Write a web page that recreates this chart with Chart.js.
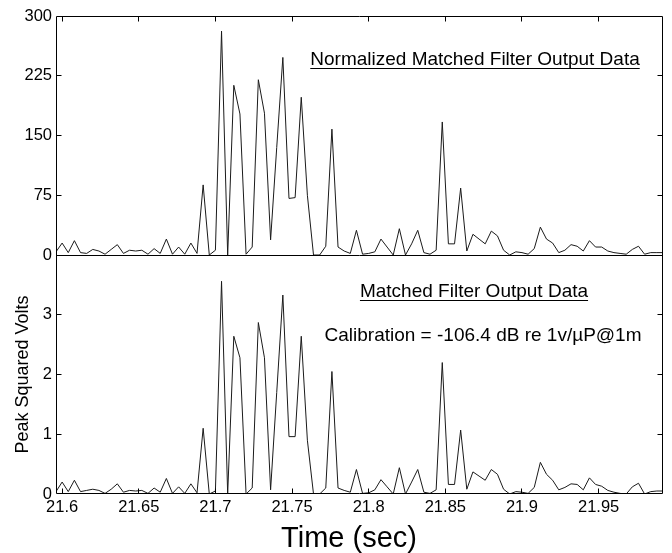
<!DOCTYPE html>
<html>
<head>
<meta charset="utf-8">
<script src="https://cdn.jsdelivr.net/npm/chart.js@4/dist/chart.umd.min.js"></script>
<style>
  html, body { margin: 0; padding: 0; background: #fff; }
  #wrap { width: 672px; height: 553px; }
</style>
</head>
<body>
<div id="wrap"><canvas id="c" width="672" height="553"></canvas></div>
<script>
// Sampling of the matched filter output (seconds)
const startTime = 21.596;
const sampleStep = 0.004;

// Normalized matched filter output, one value per sample
const normalizedOutput = [
  4, 15, 3, 18, 3, 2, 7, 5, 1, 7,
  13, 2, 6, 5, 6, 1, 8, 2, 20, 1,
  10, 1, 15, 2, 88, 0, 6, 281, 0, 213,
  177, 1, 10, 220, 178, 19, 135, 248, 71, 72,
  198, 75, 0, 0, 11, 158, 10, 5, 2, 31,
  1, 2, 4, 20, 10, 0, 33, 0, 14, 31,
  3, 1, 6, 167, 14, 14, 84, 5, 26, 20,
  14, 30, 24, 6, 0, 4, 3, 1, 8, 35,
  20, 15, 3, 6, 13, 11, 5, 18, 10, 10,
  5, 3, 2, 1, 7, 11, 1, 3, 3, 3
];

// Matched filter output in peak squared volts
const peakSquaredVolts = [
  0.04, 0.20, 0.04, 0.23, 0.04, 0.06, 0.08, 0.06, 0.01, 0.08,
  0.17, 0.03, 0.06, 0.05, 0.06, 0.01, 0.10, 0.03, 0.26, 0.01,
  0.12, 0.01, 0.17, 0.02, 1.10, 0.00, 0.05, 3.56, 0.00, 2.64,
  2.28, 0.00, 0.10, 2.87, 2.28, 0.07, 1.70, 3.33, 0.96, 0.96,
  2.64, 0.90, 0.00, 0.00, 0.10, 2.05, 0.10, 0.06, 0.03, 0.41,
  0.01, 0.02, 0.07, 0.24, 0.12, 0.00, 0.44, 0.00, 0.20, 0.41,
  0.03, 0.01, 0.07, 2.20, 0.16, 0.16, 1.07, 0.08, 0.37, 0.30,
  0.23, 0.41, 0.33, 0.08, 0.00, 0.04, 0.03, 0.01, 0.11, 0.53,
  0.33, 0.23, 0.07, 0.11, 0.17, 0.16, 0.07, 0.27, 0.16, 0.13,
  0.06, 0.03, 0.01, 0.00, 0.12, 0.18, 0.00, 0.04, 0.05, 0.05
];

// Axis ticks
const timeTicks = [21.6, 21.65, 21.7, 21.75, 21.8, 21.85, 21.9, 21.95];
const timeTickLabels = ['21.6', '21.65', '21.7', '21.75', '21.8', '21.85', '21.9', '21.95'];
const normalizedTicks = [0, 75, 150, 225, 300];
const voltTicks = [0, 1, 2, 3, 4];
const voltTickLabels = ['0', '1', '2', '3', ''];

const times = normalizedOutput.map((_, i) => +(startTime + i * sampleStep).toFixed(3));
const toPoints = vals => vals.map((v, i) => ({ x: times[i], y: v }));

const FONT = "'Liberation Sans', Arial, Helvetica, sans-serif";
Chart.defaults.font.family = FONT;
Chart.defaults.color = '#000';

// Box frame, shared divider and inward tick marks on every side
const framePlugin = {
  id: 'frame',
  afterDraw(chart) {
    const { ctx, chartArea: a, scales } = chart;
    const crisp = v => Math.floor(v) + 0.5;
    const L = crisp(a.left), R = crisp(a.right - 1), T = crisp(a.top), B = crisp(a.bottom - 1);
    const mid = crisp(scales.yTop.getPixelForValue(0));
    const len = 5;
    ctx.save();
    ctx.strokeStyle = '#000';
    ctx.lineWidth = 1;
    ctx.beginPath();
    ctx.rect(L, T, R - L, B - T);
    ctx.moveTo(L, mid); ctx.lineTo(R, mid);
    scales.x.ticks.forEach(t => {
      const px = crisp(scales.x.getPixelForValue(t.value));
      ctx.moveTo(px, B); ctx.lineTo(px, B - len);
      ctx.moveTo(px, T); ctx.lineTo(px, T + len);
    });
    ['yTop', 'yBot'].forEach(id => {
      const s = scales[id];
      s.ticks.forEach(t => {
        if (t.value === s.min || t.value === s.max) return;
        const py = crisp(s.getPixelForValue(t.value));
        ctx.moveTo(L, py); ctx.lineTo(L + len, py);
        ctx.moveTo(R, py); ctx.lineTo(R - len, py);
      });
    });
    ctx.stroke();
    ctx.restore();
  }
};

// Panel captions and the time axis title
const captionPlugin = {
  id: 'captions',
  afterDraw(chart) {
    const { ctx } = chart;
    const items = [
      { text: 'Normalized Matched Filter Output Data', x: 475, y: 65, size: 19, underline: true },
      { text: 'Matched Filter Output Data', x: 474, y: 297, size: 19, underline: true },
      { text: 'Calibration = -106.4 dB re 1v/\u00B5P@1m', x: 483, y: 341, size: 19, underline: false },
      { text: 'Time (sec)', x: 349, y: 547, size: 29, underline: false }
    ];
    ctx.save();
    ctx.fillStyle = '#000';
    ctx.textAlign = 'center';
    ctx.textBaseline = 'alphabetic';
    items.forEach(it => {
      ctx.font = it.size + 'px ' + FONT;
      ctx.fillText(it.text, it.x, it.y);
      if (it.underline) {
        const w = ctx.measureText(it.text).width;
        ctx.beginPath();
        ctx.strokeStyle = '#000';
        ctx.lineWidth = 1;
        ctx.moveTo(it.x - w / 2, Math.floor(it.y + 3) + 0.5);
        ctx.lineTo(it.x + w / 2, Math.floor(it.y + 3) + 0.5);
        ctx.stroke();
      }
    });
    ctx.restore();
  }
};

const tickFont = { family: FONT, size: 16.5 };

new Chart(document.getElementById('c'), {
  type: 'line',
  data: {
    datasets: [
      {
        label: 'Normalized',
        data: toPoints(normalizedOutput),
        yAxisID: 'yTop',
        borderColor: '#1a1a1a',
        borderWidth: 1,
        pointRadius: 0,
        tension: 0,
        fill: false
      },
      {
        label: 'Peak Squared Volts',
        data: toPoints(peakSquaredVolts),
        yAxisID: 'yBot',
        borderColor: '#1a1a1a',
        borderWidth: 1,
        pointRadius: 0,
        tension: 0,
        fill: false
      }
    ]
  },
  options: {
    responsive: false,
    animation: false,
    devicePixelRatio: 1,
    layout: { padding: { top: 16, right: 9, left: 0, bottom: 0 } },
    plugins: { legend: { display: false }, tooltip: { enabled: false } },
    scales: {
      x: {
        type: 'linear',
        position: 'bottom',
        min: startTime,
        max: +(startTime + (normalizedOutput.length - 1) * sampleStep).toFixed(3),
        afterBuildTicks: s => { s.ticks = timeTicks.map(v => ({ value: v })); },
        ticks: {
          callback: (v, i) => timeTickLabels[i],
          font: tickFont, color: '#000', padding: 4,
          maxRotation: 0, autoSkip: false
        },
        grid: { display: false, drawTicks: false },
        border: { display: false },
        afterFit: s => { s.height = 59; }
      },
      // lower panel is listed first so it sits at the bottom of the stack
      yBot: {
        type: 'linear',
        position: 'left',
        stack: 'panels',
        stackWeight: 1,
        min: 0,
        max: 4,
        afterBuildTicks: s => { s.ticks = voltTicks.map(v => ({ value: v })); },
        ticks: { callback: (v, i) => voltTickLabels[i], font: tickFont, color: '#000', padding: 4 },
        grid: { display: false, drawTicks: false },
        border: { display: false },
        title: { display: true, text: 'Peak Squared Volts', font: { family: FONT, size: 18 }, color: '#000', padding: { top: 12, bottom: 0 } },
        afterFit: s => { s.width = 56; }
      },
      yTop: {
        type: 'linear',
        position: 'left',
        stack: 'panels',
        stackWeight: 1,
        min: 0,
        max: 300,
        afterBuildTicks: s => { s.ticks = normalizedTicks.map(v => ({ value: v })); },
        ticks: { font: tickFont, color: '#000', padding: 4 },
        grid: { display: false, drawTicks: false },
        border: { display: false },
        afterFit: s => { s.width = 56; }
      }
    }
  },
  plugins: [framePlugin, captionPlugin]
});
</script>
</body>
</html>
